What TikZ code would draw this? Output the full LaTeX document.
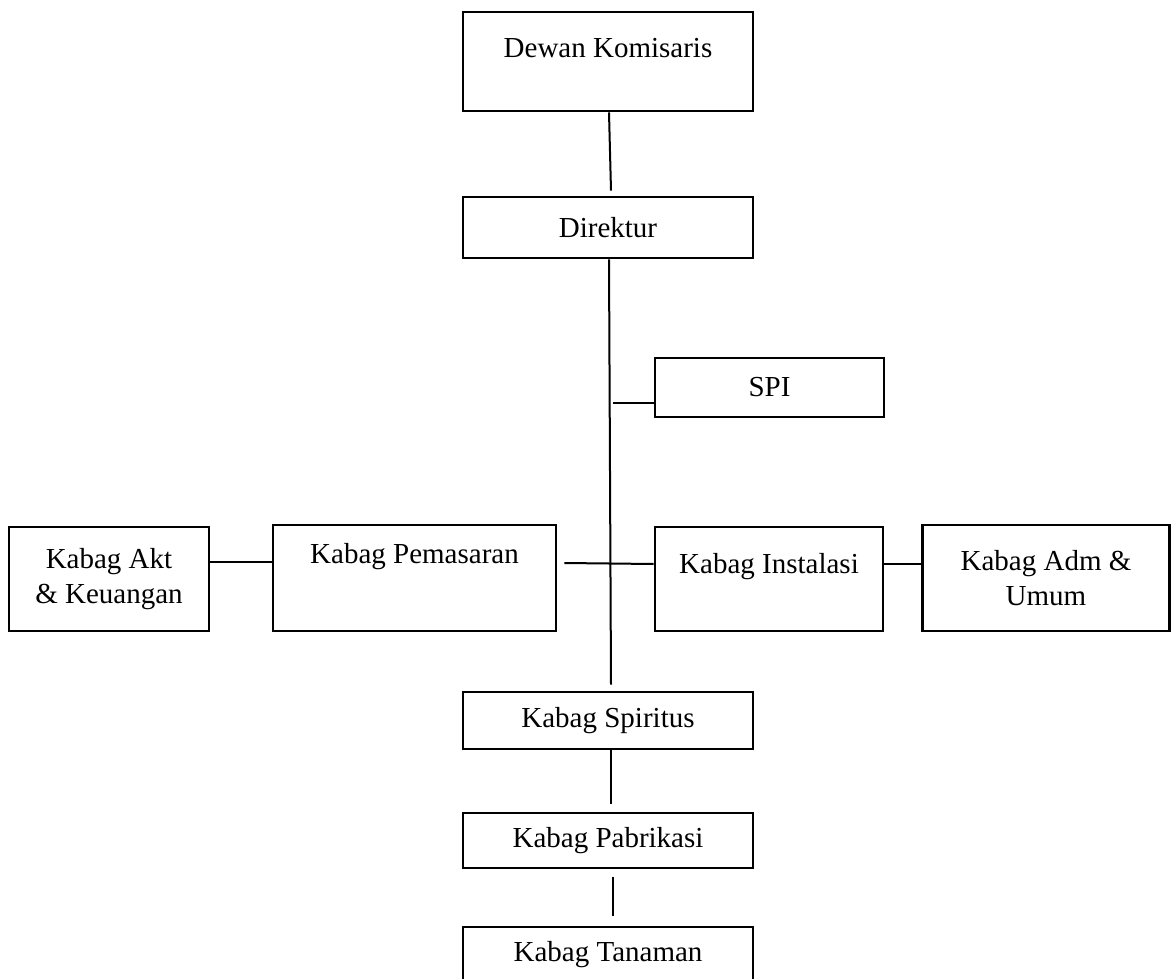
\documentclass[tikz,border=0pt]{standalone}
\usepackage{fontspec}
\setmainfont{Liberation Serif}
\tikzset{
  orgbox/.style={draw, line width=2.8pt, inner sep=0pt, align=center,
    font=\fontsize{29}{35}\selectfont},
  link/.style={line width=2pt}
}
\begin{document}
\begin{tikzpicture}[x=1pt,y=-1pt]
\useasboundingbox (0,0) rectangle (1171,979);

% central column
\node[orgbox, minimum width=290pt, minimum height=99pt, text depth=28pt] (dewan) at (608,61.5) {Dewan Komisaris};
\node[orgbox, minimum width=290pt, minimum height=61pt] (direktur) at (608,227.5) {Direktur};
\node[orgbox, minimum width=229pt, minimum height=59pt] (spi) at (769.5,387.5) {SPI};
\node[orgbox, minimum width=290pt, minimum height=57pt] (spiritus) at (608,720.5) {Kabag Spiritus};
\node[orgbox, minimum width=290pt, minimum height=55pt] (pabrikasi) at (608,840.5) {Kabag Pabrikasi};
\node[orgbox, minimum width=290pt, minimum height=56pt] (tanaman) at (608,955) {Kabag Tanaman};

% row of departments
\node[orgbox, minimum width=200pt, minimum height=104pt] (akt) at (109,579) {Kabag Akt\\\& Keuangan};
\node[orgbox, minimum width=283pt, minimum height=106pt, text depth=49pt] (pemasaran) at (414.5,578) {Kabag Pemasaran};
\node[orgbox, minimum width=228pt, minimum height=104pt, text depth=31pt] (instalasi) at (769,579) {Kabag Instalasi};
\node[orgbox, minimum width=247pt, minimum height=106pt] (adm) at (1046,578) {Kabag Adm \&\\Umum};

\coordinate (spijoint) at (613,403);

\draw[link] ([xshift=1pt]dewan.south) -- ([xshift=3pt,yshift=5pt]direktur.north);
\draw[link] ([xshift=1pt]direktur.south) -- ([xshift=3pt,yshift=6pt]spiritus.north);
\draw[link] (spijoint) -- (spijoint -| spi.west);
\draw[link] ([xshift=7pt,yshift=15pt]pemasaran.east) -- ([yshift=15pt]instalasi.west);
\draw[link] ([yshift=17pt]akt.east) -- ([yshift=17pt]akt.east -| pemasaran.west);
\draw[link] ([yshift=15pt]instalasi.east) -- ([yshift=15pt]instalasi.east -| adm.west);
\draw[link] ([xshift=3pt]spiritus.south) -- ([xshift=3pt,yshift=8pt]pabrikasi.north);
\draw[link] ([xshift=5pt,yshift=-8pt]pabrikasi.south) -- ([xshift=5pt,yshift=10pt]tanaman.north);
\end{tikzpicture}
\end{document}
